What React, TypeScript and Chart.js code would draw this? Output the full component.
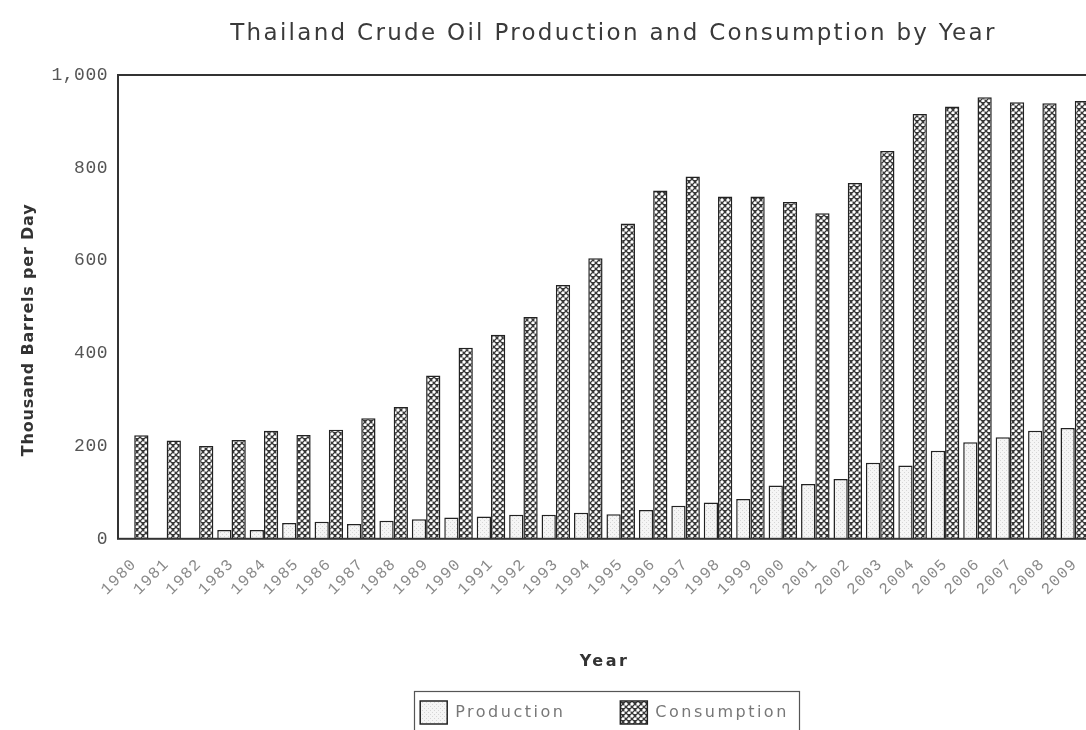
import React, { useEffect, useRef } from 'react';
import { Chart, registerables } from 'chart.js';

Chart.register(...registerables);

const years = [
  '1980', '1981', '1982', '1983', '1984', '1985', '1986', '1987', '1988', '1989',
  '1990', '1991', '1992', '1993', '1994', '1995', '1996', '1997', '1998', '1999',
  '2000', '2001', '2002', '2003', '2004', '2005', '2006', '2007', '2008', '2009',
];

const production = [
  0, 0, 0, 19, 19, 34, 37, 32, 39, 42,
  46, 48, 52, 52, 56, 53, 62, 71, 78, 86,
  115, 118, 129, 164, 158, 190, 208, 219, 233, 239,
];

const consumption = [
  223, 212, 200, 213, 233, 224, 235, 260, 284, 352,
  412, 440, 478, 547, 605, 680, 751, 781, 738, 738,
  726, 702, 767, 836, 916, 932, 952, 941, 939, 944,
];

const yTicks = [0, 200, 400, 600, 800, 1000];

const titleText = 'Thailand Crude Oil Production and Consumption by Year';
const xTitle = 'Year';
const yTitle = 'Thousand Barrels per Day';
const seriesNames = ['Production', 'Consumption'];

function makeCrossPattern(ctx: CanvasRenderingContext2D) {
  const c = document.createElement('canvas');
  c.width = 6;
  c.height = 6;
  const g = c.getContext('2d')!;
  g.fillStyle = '#383838';
  g.fillRect(0, 0, 6, 6);
  g.fillStyle = '#a8a8a8';
  g.fillRect(0, 1, 4, 2);
  g.fillRect(1, 0, 2, 4);
  g.fillRect(3, 4, 4, 2);
  g.fillRect(4, 3, 2, 4);
  g.fillRect(0, 3, 1, 3);
  g.fillStyle = '#ffffff';
  g.fillRect(1, 1, 2, 2);
  g.fillRect(4, 4, 2, 2);
  return ctx.createPattern(c, 'repeat')!;
}

function makeStipplePattern(ctx: CanvasRenderingContext2D) {
  const c = document.createElement('canvas');
  c.width = 4;
  c.height = 4;
  const g = c.getContext('2d')!;
  g.fillStyle = '#f5f5f5';
  g.fillRect(0, 0, 4, 4);
  g.fillStyle = '#d6d6d6';
  g.fillRect(0, 0, 1, 1);
  g.fillRect(2, 2, 1, 1);
  return ctx.createPattern(c, 'repeat')!;
}

function wrap(obj: any, name: string, spacing: number, dx = 0, dy = 0) {
  if (!obj || typeof obj[name] !== 'function') return;
  const orig = obj[name].bind(obj);
  obj[name] = (...args: any[]) => {
    const ctx = obj.ctx || obj.chart.ctx;
    ctx.save();
    (ctx as any).letterSpacing = spacing + 'px';
    ctx.translate(dx, dy);
    const r = orig(...args);
    ctx.restore();
    return r;
  };
}

const stylePlugin = {
  id: 'styler',
  beforeLayout(chart: any) {
    if (chart.$styled) return;
    chart.$styled = true;
    wrap(chart.legend, 'fit', 2.5);
    wrap(chart.legend, 'draw', 2.5);
    wrap(chart.titleBlock, 'draw', 2.3, 9, 0);
    wrap(chart.scales.x, 'drawTitle', 2.5);
    wrap(chart.scales.x, 'drawLabels', 1.2, 0, 8);
    wrap(chart.scales.y, 'drawTitle', 0.8, 0, 23);
    wrap(chart.scales.y, 'drawLabels', 0.5);
  },
  afterDatasetsDraw(chart: any) {
    const { ctx, chartArea } = chart;
    ctx.save();
    ctx.strokeStyle = '#333333';
    ctx.lineWidth = 2;
    ctx.strokeRect(chartArea.left, chartArea.top, chartArea.right - chartArea.left, chartArea.bottom - chartArea.top);
    ctx.restore();
  },
  afterDraw(chart: any) {
    const lg = chart.legend;
    if (!lg || !lg.legendHitBoxes || !lg.legendHitBoxes.length) return;
    const boxes = lg.legendHitBoxes;
    let minL = Infinity;
    let maxR = -Infinity;
    for (const b of boxes) {
      minL = Math.min(minL, b.left);
      maxR = Math.max(maxR, b.left + b.width);
    }
    const { ctx } = chart;
    ctx.save();
    ctx.strokeStyle = '#555555';
    ctx.lineWidth = 1.2;
    ctx.strokeRect(Math.round(minL - 6) + 0.5, Math.round(lg.top) + 0.5, Math.round(maxR - minL + 16), chart.height);
    ctx.restore();
  },
};

export default function App() {
  const ref = useRef<HTMLCanvasElement>(null);

  useEffect(() => {
    const canvas = ref.current!;
    const ctx = canvas.getContext('2d')!;
    const cross = makeCrossPattern(ctx);
    const stipple = makeStipplePattern(ctx);

    const chart = new Chart(canvas, {
      type: 'bar',
      data: {
        labels: years,
        datasets: [
          {
            label: seriesNames[0],
            data: production,
            backgroundColor: stipple,
            borderColor: '#222222',
            borderWidth: 1.5,
            barPercentage: 1,
            categoryPercentage: 0.88,
          },
          {
            label: seriesNames[1],
            data: consumption,
            backgroundColor: cross,
            borderColor: '#222222',
            borderWidth: 1.5,
            barPercentage: 1,
            categoryPercentage: 0.88,
          },
        ],
      },
      options: {
        animation: false,
        responsive: false,
        devicePixelRatio: 1,
        layout: { padding: { left: 0, right: 9, top: 0, bottom: 6 } },
        font: { family: 'DejaVu Sans' },
        plugins: {
          tooltip: { enabled: false },
          title: {
            display: true,
            text: titleText,
            fullSize: false,
            color: '#3a3a3a',
            font: { family: 'DejaVu Sans', size: 23, weight: 'normal' },
            padding: { top: 20, bottom: 27.4 },
          },
          legend: {
            display: true,
            position: 'bottom',
            fullSize: false,
            title: {
              display: true,
              text: '',
              font: { size: 1 },
              padding: { top: -46, bottom: 0 },
            },
            labels: {
              boxWidth: 27,
              boxHeight: 23,
              padding: 55,
              color: '#777777',
              font: { family: 'DejaVu Sans', size: 16 },
            },
          },
        },
        scales: {
          x: {
            type: 'category',
            grid: { display: false, drawTicks: false },
            border: { display: false },
            ticks: {
              autoSkip: false,
              maxRotation: 45,
              minRotation: 45,
              padding: 8,
              color: '#8a8a8a',
              font: { family: 'Liberation Mono', size: 16 },
            },
            title: {
              display: true,
              text: xTitle,
              color: '#333333',
              font: { family: 'DejaVu Sans', size: 16, weight: 'bold' },
              padding: { top: 0, bottom: 19 },
            },
            afterFit(scale: any) {
              scale.height = 152;
            },
          },
          y: {
            min: 0,
            max: 1000,
            grid: { display: false, drawTicks: false },
            border: { display: false },
            ticks: {
              padding: 10,
              color: '#555555',
              font: { family: 'Liberation Mono', size: 18 },
            },
            afterBuildTicks(scale: any) {
              scale.ticks = yTicks.map((v) => ({ value: v }));
            },
            title: {
              display: true,
              text: yTitle,
              color: '#333333',
              font: { family: 'DejaVu Sans', size: 16, weight: 'bold' },
              padding: { top: 19, bottom: 0 },
            },
            afterFit(scale: any) {
              scale.width = 118;
            },
          },
        },
      },
      plugins: [stylePlugin],
    });

    return () => chart.destroy();
  }, []);

  return (
    <div
      style={{
        position: 'fixed',
        left: 0,
        top: 0,
        width: 1086,
        height: 730,
        overflow: 'hidden',
        background: '#ffffff',
      }}
    >
      <canvas ref={ref} width={1100} height={740} style={{ display: 'block' }} />
    </div>
  );
}
